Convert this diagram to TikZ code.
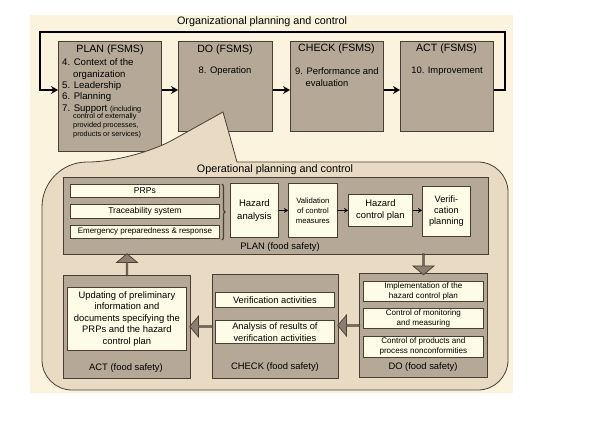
\documentclass[tikz,border=0pt]{standalone}
\usepackage{fontspec}
\setmainfont{Liberation Sans}
\usetikzlibrary{arrows.meta,positioning,shapes.arrows,decorations.pathreplacing}

\definecolor{paper}{RGB}{252,243,222}
\definecolor{calloutfill}{RGB}{233,219,195}
\definecolor{stepgrey}{RGB}{181,168,151}
\definecolor{cardfill}{RGB}{254,252,230}
\definecolor{blockfill}{RGB}{140,127,112}
\definecolor{edge}{RGB}{72,62,52}

\tikzset{
  fsms/.style={draw=edge, fill=stepgrey, line width=1.1pt, anchor=north west, inner sep=0pt},
  phase/.style={draw=edge, fill=stepgrey, line width=1pt, anchor=north west, inner sep=0pt},
  card/.style={draw=edge, fill=cardfill, line width=0.8pt, anchor=north west, inner sep=0pt, align=center},
  flow/.style={line width=1.7pt, -{Stealth[length=7pt,width=8pt]}},
  smallflow/.style={line width=1.5pt, -{Stealth[length=4pt,width=5pt]}},
  block/.style={single arrow, draw=edge, fill=blockfill, line width=0.7pt, inner sep=0pt,
    minimum width=21pt, single arrow head extend=5pt, single arrow tip angle=100,
    sloped, allow upside down},
  bigtitle/.style={font=\fontsize{10.8}{13}\selectfont, inner sep=0pt},
  boxhead/.style={font=\fontsize{10.6}{12}\selectfont, inner sep=0pt},
  boxtext/.style={font=\fontsize{9.4}{11.5}\selectfont, inner sep=0pt},
}

\begin{document}
\begin{tikzpicture}[x=1pt, y=-1pt]
  \useasboundingbox (0,0) rectangle (600,444);
  \fill[paper] (30,15) rectangle (513,393);

  % management system cycle
  \node[bigtitle] (orgtitle) at (262,22) {Organizational planning and control};
  \coordinate (flow) at (0,90);
  \coordinate (loopl) at (40,32);
  \coordinate (loopr) at (505,32);

  \node[fsms, minimum width=103pt, minimum height=110pt] (plan) at (58,41) {};
  \node[fsms, minimum width=94pt, minimum height=90pt] (do) at (178,41) {};
  \node[fsms, minimum width=93pt, minimum height=90pt] (check) at (290,41) {};
  \node[fsms, minimum width=93pt, minimum height=90pt] (act) at (400,41) {};

  \node[boxhead] (planhead) at (110,50) {PLAN (FSMS)};
  \node[boxtext, font=\fontsize{9.6}{11.4}\selectfont, align=left, anchor=north west] (planlist) at (62,58.5)
    {4. Context of the\\ \hspace*{11pt}organization\\ 5. Leadership\\ 6. Planning\\
     7. Support {\fontsize{7.3}{8}\selectfont (including}};
  \node[font=\fontsize{7.3}{9}\selectfont, inner sep=0pt, align=left, anchor=north west] (plannote) at (73,113.5)
    {control of externally\\ provided processes,\\ products or services)};
  \node[boxhead] (dohead) at (225,50) {DO (FSMS)};
  \node[boxtext] (dotext) at (225,71) {8. Operation};
  \node[boxhead] (checkhead) at (336.5,49) {CHECK (FSMS)};
  \node[boxtext, align=left, anchor=north west] (checktext) at (295,67.5)
    {9. Performance and\\ \hspace*{10.4pt}evaluation};
  \node[boxhead] (acthead) at (446.5,49) {ACT (FSMS)};
  \node[boxtext] (acttext) at (447,71) {10. Improvement};

  \draw[flow] (plan.east |- flow) -- (do.west |- flow);
  \draw[flow] (do.east |- flow) -- (check.west |- flow);
  \draw[flow] (check.east |- flow) -- (act.west |- flow);
  \draw[flow] (act.east |- flow) -| (loopr) -| (loopl) |- (plan.west |- flow);

  % callout with the operational cycle
  \draw[edge, fill=calloutfill, line width=0.8pt] (237,162) [rounded corners=30pt] -- (508,162) -- (508,390)
    -- (42,390) [rounded corners=45pt] -- (42,162) -- (133,162) [sharp corners] -- (223,112) -- cycle;
  \node[bigtitle] (optitle) at (275,170) {Operational planning and control};

  % PLAN (food safety)
  \node[phase, minimum width=425pt, minimum height=77pt] (opplan) at (63,177) {};
  \node[card, minimum width=149pt, minimum height=13pt, font=\fontsize{8.6}{10}\selectfont] (prp) at (70,184) {PRPs};
  \node[card, minimum width=149pt, minimum height=14pt, font=\fontsize{8.6}{10}\selectfont] (trace) at (70,204) {Traceability system};
  \node[card, minimum width=149pt, minimum height=13pt, font=\fontsize{8}{10}\selectfont] (emerg) at (70,225) {Emergency preparedness \& response};
  \draw[decorate, decoration={brace, amplitude=3pt}, line width=1.2pt, edge] (222,184) -- (222,240);
  \node[card, minimum width=48pt, minimum height=54pt, font=\fontsize{9.5}{12.5}\selectfont] (hazard) at (230,183) {Hazard\\ analysis};
  \node[card, minimum width=49pt, minimum height=54pt, font=\fontsize{7.7}{10}\selectfont] (valid) at (288,183) {Validation\\ of control\\ measures};
  \node[card, minimum width=64pt, minimum height=32pt, font=\fontsize{9.4}{12}\selectfont] (hcp) at (348,194) {Hazard\\ control plan};
  \node[card, minimum width=48pt, minimum height=50pt, font=\fontsize{9.2}{11}\selectfont] (verplan) at (422,186) {Verifi-\\ cation\\ planning};
  \node[boxtext] (planlabel) at (280,247) {PLAN (food safety)};
  \draw[smallflow] (hazard) -- (valid);
  \draw[smallflow] (valid) -- (hcp);
  \draw[smallflow] (hcp) -- (verplan.west |- hcp);

  % DO (food safety)
  \node[phase, minimum width=128pt, minimum height=104pt] (dofs) at (359,273) {};
  \node[card, minimum width=120pt, minimum height=20pt, font=\fontsize{8.1}{10}\selectfont] (impl) at (363,281) {Implementation of the\\ hazard control plan};
  \node[card, minimum width=120pt, minimum height=20pt, font=\fontsize{8.1}{10}\selectfont] (monit) at (363,308) {Control of monitoring\\ and measuring};
  \node[card, minimum width=120pt, minimum height=21pt, font=\fontsize{8.1}{10}\selectfont] (nonconf) at (363,336) {Control of products and\\ process nonconformities};
  \node[boxtext] (dolabel) at (423,367) {DO (food safety)};

  % CHECK (food safety)
  \node[phase, minimum width=126pt, minimum height=104pt] (checkfs) at (212,274) {};
  \node[card, minimum width=119pt, minimum height=15pt, font=\fontsize{9.3}{12}\selectfont] (veract) at (215,292) {Verification activities};
  \node[card, minimum width=119pt, minimum height=23pt, font=\fontsize{9.3}{12}\selectfont] (anres) at (215,320) {Analysis of results of\\ verification activities};
  \node[boxtext] (checklabel) at (275,367) {CHECK (food safety)};

  % ACT (food safety)
  \node[phase, minimum width=127pt, minimum height=103pt] (actfs) at (63,275) {};
  \node[card, minimum width=119pt, minimum height=63pt, font=\fontsize{9.4}{11.6}\selectfont] (update) at (67,287)
    {Updating of preliminary\\ information and\\ documents specifying the\\ PRPs and the hazard\\ control plan};
  \node[boxtext] (actlabel) at (126,368) {ACT (food safety)};

  % block arrows
  \path (opplan.south -| dofs.north) -- (dofs.north) node[block, midway, minimum height=21pt] (downbl) {};
  \path (dofs.west) -- (checkfs.east |- dofs.west) node[block, midway, minimum height=22pt] (leftbl) {};
  \path (checkfs.west) -- (actfs.east |- checkfs.west) node[block, midway, minimum height=23pt] (leftbl2) {};
  \path (actfs.north) -- (opplan.south -| actfs.north) node[block, midway, minimum height=22pt] (upbl) {};
\end{tikzpicture}
\end{document}
